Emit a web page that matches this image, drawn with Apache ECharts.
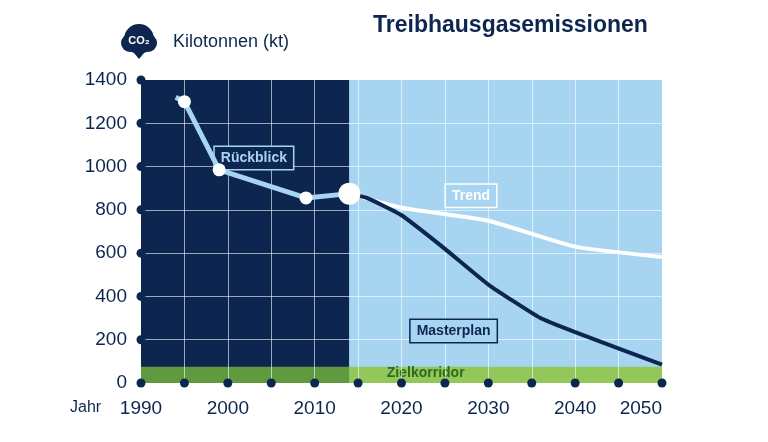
<!DOCTYPE html><html><head><meta charset="utf-8"><script src="https://cdn.jsdelivr.net/npm/echarts@6/dist/echarts.min.js"></script>
<style>body{margin:0;background:#fff}#c{width:768px;height:442px}</style></head><body><div id="c"></div><script>
const yTicks=[0,200,400,600,800,1000,1200,1400];
const xTicks=[1990,1995,2000,2005,2010,2015,2020,2025,2030,2035,2040,2045,2050];
const rueckblick=[[1994,1320],[1995,1300],[1999,985],[2009,855],[2014,875]];
const rueckDots=[[1995,1300],[1999,985],[2009,855]];
const trend=[[2014,875],[2020,810],[2030,750],[2040,630],[2050,582]];
const masterplan=[[2014,875],[2016,855],[2020,775],[2025,620],[2030,455],[2036,300],[2040,235],[2050,85]];
const NAVY='#0c2650',LIGHT='#a6d4f1';
function box(txt,bg,border,fg){return {show:true,formatter:txt,backgroundColor:bg,borderColor:border,borderWidth:1.5,padding:[4,6],color:fg,fontSize:14,fontWeight:'bold',fontFamily:'Liberation Sans'};}
const chart=echarts.init(document.getElementById('c'));
chart.setOption({
 animation:false,
 grid:{left:141,right:106,top:80,bottom:59},
 xAxis:{type:'value',min:1990,max:2050,interval:5,
  axisLine:{show:false},axisTick:{show:false},splitLine:{show:false},
  axisLabel:{color:NAVY,fontSize:19,fontFamily:'Liberation Sans',margin:16,
   formatter:v=>v%10===0?String(v):'',alignMaxLabel:'right'}},
 yAxis:{type:'value',min:0,max:1400,interval:200,
  axisLine:{show:false},axisTick:{show:false},splitLine:{show:false},
  axisLabel:{color:NAVY,fontSize:19,fontFamily:'Liberation Sans',margin:14,padding:[0,0,12,0],formatter:v=>String(v)}},
 graphic:[
  {type:'text',left:373,top:14,style:{text:'Treibhausgasemissionen',fill:NAVY,font:'bold 23px Liberation Sans'}},
  {type:'text',left:173,top:33,style:{text:'Kilotonnen (kt)',fill:NAVY,font:'18px Liberation Sans'}},
  {type:'group',left:121,top:24,children:[
   {type:'circle',shape:{cx:20,cy:20,r:15},style:{fill:NAVY}},
   {type:'circle',shape:{cx:11,cy:24,r:9},style:{fill:NAVY}},
   {type:'circle',shape:{cx:29,cy:24,r:9},style:{fill:NAVY}},
   {type:'polygon',shape:{points:[[15,34],[25,34],[20,40]]},style:{fill:NAVY}},
   {type:'text',style:{text:'CO₂',x:20,y:22,align:'center',verticalAlign:'middle',fill:'#fff',font:'bold 11px Liberation Sans'}}
  ]},
  {type:'text',left:70,top:400,style:{text:'Jahr',fill:NAVY,font:'16px Liberation Sans'}}
 ],
 series:[
  {type:'line',data:[],silent:true,z:1,
   markArea:{silent:true,label:{show:false},data:[
    [{coord:[1990,0],itemStyle:{color:NAVY}},{coord:[2014,1400]}],
    [{coord:[2014,0],itemStyle:{color:LIGHT}},{coord:[2050,1400]}]
   ]}},
  {type:'line',data:[],silent:true,z:2,
   markLine:{silent:true,symbol:'none',label:{show:false},lineStyle:{color:'rgba(255,255,255,0.6)',width:1,type:'solid'},
    data:xTicks.slice(1,-1).map(x=>({xAxis:x})).concat(yTicks.slice(1,-1).map(y=>({yAxis:y})))}},
  {type:'line',data:[],silent:true,z:3,
   markArea:{silent:true,data:[
    [{coord:[1990,-25],itemStyle:{color:'#5f9a3e',decal:{symbol:'rect',dashArrayX:[1,0],dashArrayY:[7,7],rotation:-Math.PI/4,color:'rgba(40,90,30,0.35)'}},label:{show:false}},{coord:[2014,75]}],
    [{coord:[2014,-25],itemStyle:{color:'#92c85a',decal:{symbol:'rect',dashArrayX:[1,0],dashArrayY:[7,7],rotation:-Math.PI/4,color:'rgba(80,150,50,0.35)'}},
      label:{show:true,position:'inside',formatter:'Zielkorridor',color:'#2d6a1e',fontSize:14,fontWeight:'bold',fontFamily:'Liberation Sans',offset:[-80,-2]}},{coord:[2050,75]}]
   ]}},
  {type:'line',data:trend,symbol:'none',smooth:0.15,lineStyle:{color:'#fff',width:4},z:4,
   markPoint:{symbol:'rect',symbolSize:1,itemStyle:{color:'rgba(0,0,0,0)'},data:[{coord:[2028,865]}],label:box('Trend',LIGHT,'#fff','#fff')}},
  {type:'line',data:masterplan,symbol:'none',smooth:0.15,lineStyle:{color:NAVY,width:4},z:5,
   markPoint:{symbol:'rect',symbolSize:1,itemStyle:{color:'rgba(0,0,0,0)'},data:[{coord:[2026,240]}],label:box('Masterplan',LIGHT,NAVY,NAVY)}},
  {type:'line',data:rueckblick,symbol:'none',lineStyle:{color:LIGHT,width:5},z:6,
   markPoint:{symbol:'rect',symbolSize:1,itemStyle:{color:'rgba(0,0,0,0)'},data:[{coord:[2003,1040]}],label:box('Rückblick',NAVY,LIGHT,LIGHT)}},
  {type:'scatter',data:rueckDots,symbolSize:13,itemStyle:{color:'#fff',opacity:1},z:7},
  {type:'scatter',data:[[2014,875]],symbolSize:22,itemStyle:{color:'#fff',opacity:1},z:7},
  {type:'scatter',data:xTicks.map(x=>[x,0]),symbolSize:9,itemStyle:{color:NAVY,opacity:1},z:8,clip:false},
  {type:'scatter',data:yTicks.slice(1).map(y=>[1990,y]),symbolSize:9,itemStyle:{color:NAVY,opacity:1},z:8,clip:false}
 ]
});
</script></body></html>
